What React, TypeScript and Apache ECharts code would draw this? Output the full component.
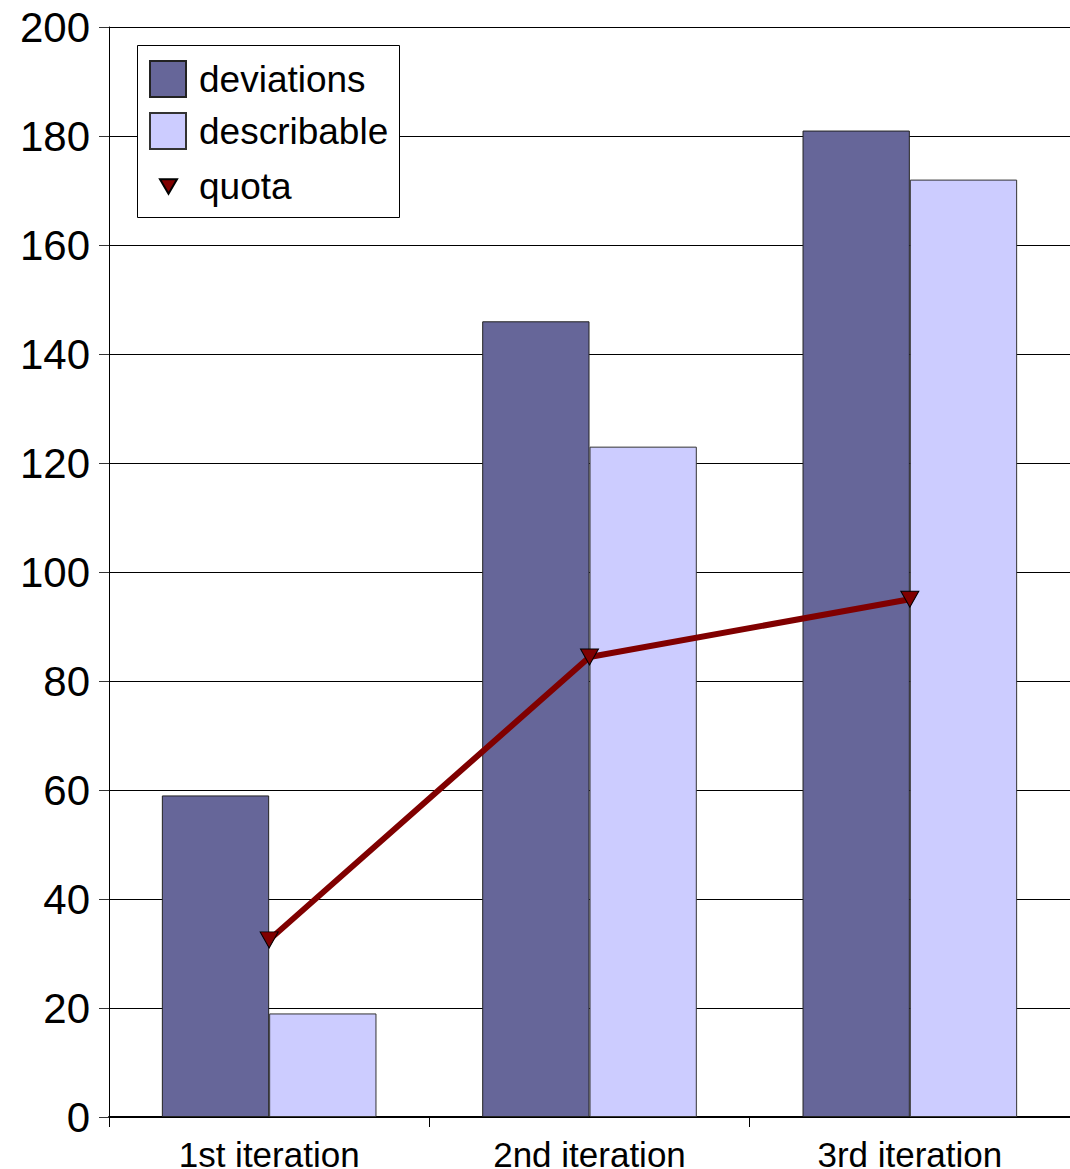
import React, { useEffect, useRef } from "react";
import * as echarts from "echarts";

const categories = ["1st iteration", "2nd iteration", "3rd iteration"];
const deviations = [59, 146, 181];
const describable = [19, 123, 172];
const quota = [32.5, 84.4, 95];
const yTicks = { min: 0, max: 200, interval: 20 };

const FONT = "'Liberation Sans', Arial, sans-serif";
const TRI = "path://M0,0 L2,0 L1,1.7 Z";

export default function App() {
  const ref = useRef<HTMLDivElement>(null);
  useEffect(() => {
    if (!ref.current) return;
    const chart = echarts.init(ref.current, undefined, { renderer: "svg" });
    chart.setOption({
      animation: false,
      textStyle: { fontFamily: FONT, color: "#000" },
      grid: {
        left: 109,
        right: 0,
        top: 27,
        bottom: 52,
        containLabel: false,
        outerBoundsMode: "none",
      },
      xAxis: {
        type: "category",
        data: categories,
        boundaryGap: true,
        axisLine: { show: true, lineStyle: { color: "#000", width: 2 } },
        axisTick: { show: true, length: 10, lineStyle: { color: "#000", width: 1 } },
        axisLabel: { fontSize: 35, color: "#000", margin: 20, fontFamily: FONT },
      },
      yAxis: {
        type: "value",
        min: yTicks.min,
        max: yTicks.max,
        interval: yTicks.interval,
        axisLine: { show: true, lineStyle: { color: "#000", width: 1 } },
        axisTick: { show: true, length: 10, lineStyle: { color: "#333", width: 1 } },
        axisLabel: { fontSize: 42, color: "#000", margin: 19, fontFamily: FONT },
        splitLine: { show: true, lineStyle: { color: "#000", width: 1 } },
      },
      legend: [
        {
          data: [
            { name: "deviations", icon: "rect" },
            { name: "describable", icon: "rect" },
          ],
          orient: "vertical",
          left: 144,
          top: 55,
          itemWidth: 36,
          itemHeight: 36,
          itemGap: 14,
          z: 20,
          textStyle: { fontSize: 37, color: "#000", fontFamily: FONT, padding: [0, 0, 0, 8] },
        },
        {
          data: [{ name: "quota", icon: TRI }],
          orient: "vertical",
          left: 154,
          top: 163,
          itemWidth: 17,
          itemHeight: 15,
          z: 20,
          textStyle: { fontSize: 37, color: "#000", fontFamily: FONT, padding: [0, 0, 0, 17] },
        },
      ],
      graphic: [
        {
          type: "rect",
          z: 10,
          shape: { x: 137.5, y: 45.5, width: 262, height: 172 },
          style: { fill: "#fff", stroke: "#000", lineWidth: 1 },
        },
      ],
      series: [
        {
          name: "deviations",
          type: "bar",
          data: deviations,
          barGap: "0%",
          barCategoryGap: "33%",
          itemStyle: { color: "#666699", borderColor: "#222", borderWidth: 1 },
        },
        {
          name: "describable",
          type: "bar",
          data: describable,
          itemStyle: { color: "#ccccff", borderColor: "#333", borderWidth: 1 },
        },
        {
          name: "quota",
          type: "line",
          data: quota,
          symbol: TRI,
          symbolSize: [18, 16],
          z: 5,
          lineStyle: { color: "#800000", width: 6 },
          itemStyle: { color: "#800000", borderColor: "#000", borderWidth: 1 },
        },
      ],
    });
    return () => chart.dispose();
  }, []);
  return (
    <div
      ref={ref}
      style={{ position: "fixed", left: 0, top: 0, width: 1070, height: 1169, background: "#fff" }}
    />
  );
}
